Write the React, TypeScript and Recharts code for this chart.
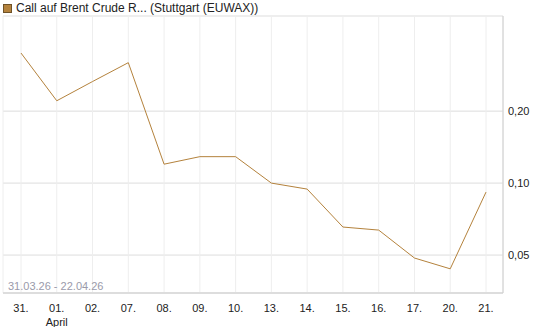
import * as React from 'react';
import { LineChart, Line, XAxis, YAxis, CartesianGrid } from 'recharts';

// Kursverlauf, Stuttgart (EUWAX)
const days = ['31.', '01.', '02.', '07.', '08.', '09.', '10.', '13.', '14.', '15.', '16.', '17.', '20.', '21.'];
const months = ['', 'April', '', '', '', '', '', '', '', '', '', '', '', ''];
const prices = [0.35, 0.221, 0.266, 0.319, 0.12, 0.129, 0.129, 0.1, 0.0944, 0.0655, 0.0636, 0.0486, 0.0438, 0.0917];
const yTicks = [0.05, 0.1, 0.2];

const data = days.map((d, i) => ({ day: d, month: months[i], price: prices[i] }));

const FONT = 'Liberation Sans, Arial, sans-serif';
const LINE = '#b4823c';

function DayTick(props: any) {
  const { x, y, payload, index } = props;
  const month = months[index];
  return (
    <g>
      <text x={x} y={y + 11} textAnchor="middle" fontSize={11} fontFamily={FONT} fill="#222">
        {payload.value}
      </text>
      {month ? (
        <text x={x} y={y + 25} textAnchor="middle" fontSize={11} fontFamily={FONT} fill="#222">
          {month}
        </text>
      ) : null}
    </g>
  );
}

export default function App() {
  return (
    <div style={{ position: 'absolute', left: 0, top: 0, width: 545, height: 327 }}>
      <LineChart width={545} height={327} data={data} margin={{ top: 16, right: 0, bottom: 0, left: 3 }}>
        <CartesianGrid vertical={false} stroke="#dddddd" />
        <CartesianGrid horizontal={false} stroke="#eeeeee" />
        <XAxis
          dataKey="day"
          interval={0}
          height={34}
          padding={{ left: 18, right: 17 }}
          tickLine={false}
          axisLine={{ stroke: '#cccccc' }}
          tick={<DayTick />}
        />
        <XAxis xAxisId="top" orientation="top" dataKey="day" height={0} tick={false} tickLine={false} axisLine={{ stroke: '#cccccc' }} />
        <YAxis
          orientation="right"
          scale="log"
          domain={[0.0347, 0.5]}
          allowDataOverflow
          ticks={yTicks}
          width={42}
          tickSize={0}
          tickMargin={5}
          tickLine={false}
          axisLine={{ stroke: '#cccccc' }}
          tick={{ fontSize: 11, fontFamily: FONT, fill: '#222' }}
          tickFormatter={(v: number) => v.toFixed(2).replace('.', ',')}
        />
        <YAxis yAxisId="left" orientation="left" width={0} tick={false} tickLine={false} axisLine={{ stroke: '#cccccc' }} />
        <Line
          type="linear"
          dataKey="price"
          stroke={LINE}
          strokeWidth={1}
          dot={false}
          activeDot={false}
          isAnimationActive={false}
        />
      </LineChart>
      <div style={{ position: 'absolute', left: 3, top: 1, display: 'flex', alignItems: 'center', fontFamily: FONT, fontSize: 12, color: '#222', whiteSpace: 'nowrap' }}>
        <span style={{ display: 'inline-block', width: 7, height: 7, background: LINE, border: '1px solid #6e5228', marginRight: 4 }} />
        Call auf Brent Crude R... (Stuttgart (EUWAX))
      </div>
      <div style={{ position: 'absolute', left: 8, top: 280, fontFamily: FONT, fontSize: 11, color: '#9a9aaa', whiteSpace: 'nowrap' }}>
        31.03.26 - 22.04.26
      </div>
    </div>
  );
}
